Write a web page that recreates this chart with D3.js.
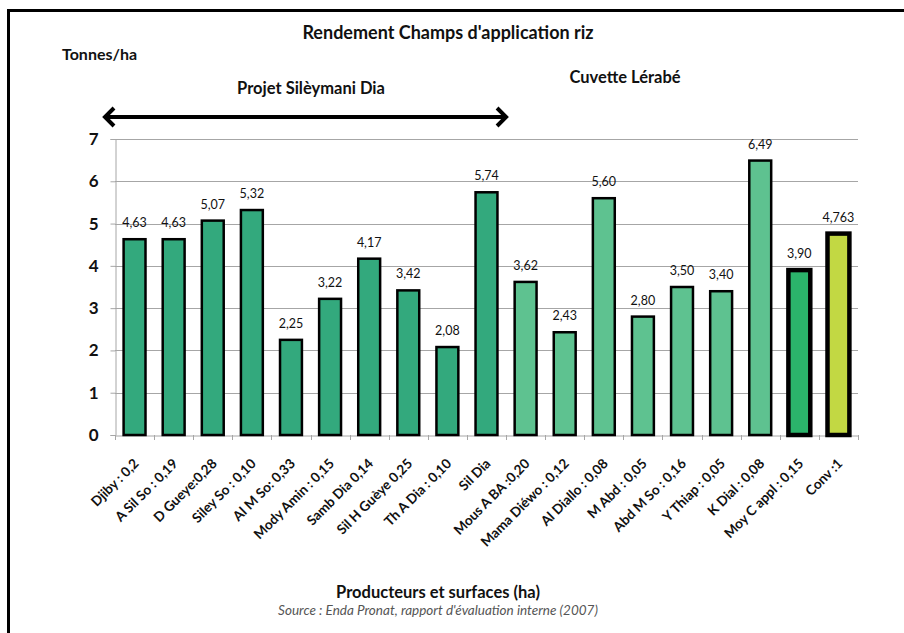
<!DOCTYPE html>
<html>
<head>
<meta charset="utf-8">
<script src="https://cdn.jsdelivr.net/npm/d3@7"></script>
<style>
  html, body { margin: 0; padding: 0; background: #fff; }
  svg { display: block; font-family: Lato, "Open Sans", sans-serif; }
  .grid line { stroke: #a6a6a6; stroke-width: 1; }
  .yaxis text { font-weight: bold; font-size: 17px; fill: #111; }
  .xaxis text { font-weight: bold; font-size: 13.6px; fill: #111; }
  .vlab { font-size: 12.5px; fill: #111; }
</style>
</head>
<body>
<svg id="chart" width="904" height="633"></svg>
<script>
// rendement riz, t/ha par producteur
const categories = [
  "Djiby : 0,2", "A Sil So : 0,19", "D Gueye:0,28", "Siley So : 0,10", "Al M So: 0,33",
  "Mody Amin : 0,15", "Samb Dia 0,14", "Sil H Guèye 0,25", "Th A Dia : 0,10", "Sil Dia",
  "Mous A BA :0,20", "Mama Diéwo : 0,12", "Al Diallo : 0,08", "M Abd : 0,05", "Abd M So : 0,16",
  "Y Thiap : 0,05", "K Dial : 0,08", "Moy C appl : 0,15", "Conv :1"
];
const values = [4.63, 4.63, 5.07, 5.32, 2.25, 3.22, 4.17, 3.42, 2.08, 5.74,
                3.62, 2.43, 5.60, 2.80, 3.50, 3.40, 6.49, 3.90, 4.763];
const valueLabels = ["4,63", "4,63", "5,07", "5,32", "2,25", "3,22", "4,17", "3,42", "2,08", "5,74",
                     "3,62", "2,43", "5,60", "2,80", "3,50", "3,40", "6,49", "3,90", "4,763"];
// groupe : projet, cuvette, moyenne, conventionnel
const groups = ["p","p","p","p","p","p","p","p","p","p","c","c","c","c","c","c","c","m","v"];
const yTicks = [0, 1, 2, 3, 4, 5, 6, 7];

const fill = { p: "#33a97d", c: "#5ec290", m: "#2bb46b", v: "#c2d843" };
const strokeW = { p: 2.5, c: 2.5, m: 4.5, v: 4.5 };

const svg = d3.select("#chart");
const m = { left: 115, right: 858, top: 139, bottom: 435 };

const x = d3.scaleBand().domain(categories).range([m.left, m.right])
  .paddingInner(0.44).paddingOuter(0.22);
const y = d3.scaleLinear().domain([0, 7]).range([m.bottom, m.top]);

// cadre
svg.append("rect").attr("x", 8.5).attr("y", 10.5).attr("width", 1000).attr("height", 1000)
  .attr("fill", "none").attr("stroke", "#000").attr("stroke-width", 3);

// grille
svg.append("g").attr("class", "grid").selectAll("line").data(yTicks.slice(1)).join("line")
  .attr("x1", m.left).attr("x2", m.right)
  .attr("y1", d => Math.round(y(d)) + 0.5).attr("y2", d => Math.round(y(d)) + 0.5);

// axe y
const yAxis = svg.append("g").attr("class", "yaxis")
  .attr("transform", `translate(${m.left + 0.5},0)`)
  .call(d3.axisLeft(y).tickValues(yTicks).tickFormat(d3.format("d")).tickSize(5).tickPadding(12))
  .attr("font-family", null).attr("font-size", null);
yAxis.select(".domain").attr("stroke", "#a6a6a6");
yAxis.selectAll(".tick line").attr("stroke", "#a6a6a6");

// axe x
const xAxis = svg.append("g").attr("class", "xaxis")
  .attr("transform", `translate(0,${m.bottom + 0.5})`)
  .call(d3.axisBottom(x).tickSize(0).tickPadding(0))
  .attr("font-family", null).attr("font-size", null);
xAxis.select(".domain").attr("stroke", "#a6a6a6");
xAxis.selectAll(".tick text")
  .attr("text-anchor", "end")
  .attr("y", 0).attr("dy", 0)
  .attr("transform", "translate(5,29) rotate(-45)");
const step = x.step();
svg.append("g").selectAll("line").data(d3.range(categories.length + 1)).join("line")
  .attr("x1", i => Math.round(m.left + i * step) + 0.5)
  .attr("x2", i => Math.round(m.left + i * step) + 0.5)
  .attr("y1", m.bottom).attr("y2", m.bottom + 5)
  .attr("stroke", "#a6a6a6");

// barres
svg.append("g").selectAll("rect").data(values).join("rect")
  .attr("x", (d, i) => x(categories[i]))
  .attr("y", d => y(d))
  .attr("width", x.bandwidth())
  .attr("height", d => y(0) - y(d))
  .attr("fill", (d, i) => fill[groups[i]])
  .attr("stroke", "#000")
  .attr("stroke-width", (d, i) => strokeW[groups[i]]);

// etiquettes de valeur
svg.append("g").selectAll("text").data(values).join("text")
  .attr("class", "vlab")
  .attr("x", (d, i) => x(categories[i]) + x.bandwidth() / 2)
  .attr("y", d => y(d) - 12)
  .attr("text-anchor", "middle")
  .text((d, i) => valueLabels[i]);

// titres
const t = (txt, tx, ty, size, opts = {}) => svg.append("text")
  .attr("x", tx).attr("y", ty).attr("text-anchor", opts.anchor || "middle")
  .attr("font-size", size).attr("font-weight", opts.weight || "bold")
  .attr("font-style", opts.style || "normal").attr("fill", opts.fill || "#111")
  .text(txt);

t("Rendement Champs d'application riz", 448, 39, 18);
t("Tonnes/ha", 62, 60, 16, { anchor: "start" });
t("Projet Silèymani Dia", 311, 94, 16.5);
t("Cuvette Lérabé", 625, 83, 16.5);
t("Producteurs et surfaces (ha)", 438, 598, 16.5);
t("Source : Enda Pronat, rapport d'évaluation interne (2007)", 438, 615, 13.5,
  { weight: "normal", style: "italic", fill: "#555" });

// fleche du projet
const ax0 = m.left - 10;
const ax1 = m.left + 10 * step;
const ay = 117;
svg.append("path")
  .attr("d", `M${ax0},${ay}H${ax1}M${ax0 + 9},${ay - 9}L${ax0},${ay}L${ax0 + 9},${ay + 9}` +
             `M${ax1 - 9},${ay - 9}L${ax1},${ay}L${ax1 - 9},${ay + 9}`)
  .attr("fill", "none").attr("stroke", "#000").attr("stroke-width", 4)
  .attr("stroke-linejoin", "miter");
</script>
</body>
</html>
